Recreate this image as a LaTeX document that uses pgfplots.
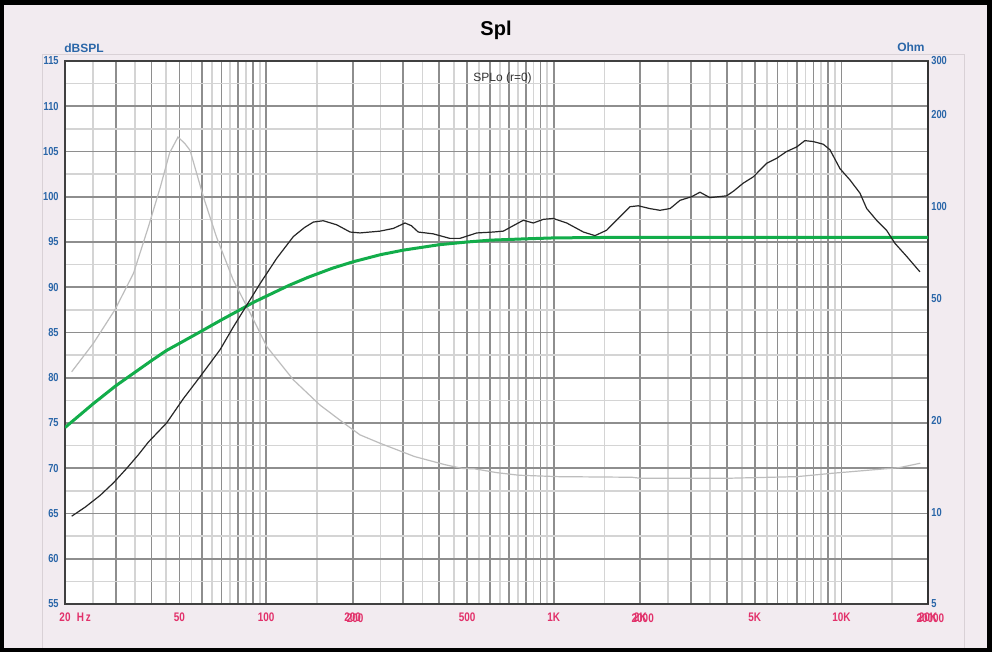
\documentclass[border=0pt]{standalone}
\usepackage{fontspec}
\setmainfont{Liberation Sans}
\newfontfamily\tickfont[FakeStretch=0.8]{Liberation Sans}
\usepackage{pgfplots}
\usepackage{pgfplotstable}
\pgfplotsset{compat=1.18}
\definecolor{bgpink}{HTML}{F2EBF0}
\definecolor{tickblue}{HTML}{2A66A8}
\definecolor{tickred}{HTML}{E2306A}
\definecolor{gridDark}{HTML}{8E8E8E}
\definecolor{gridLight}{HTML}{D4D4D4}
\definecolor{splgreen}{HTML}{12AD4A}
\definecolor{impgray}{HTML}{BDBDBD}
\definecolor{framegray}{HTML}{D9D1D6}

% SPL response (Hz, dB)
\pgfplotstableread{
f db
21.1 64.7
23.5 65.7
26.5 67.0
29.5 68.4
32.8 70.0
36.0 71.5
39.0 72.9
45.1 75.0
51.6 77.7
58.9 80.1
69.2 83.1
76.9 85.6
85.6 88.0
95.3 90.4
108.9 93.2
124.4 95.6
136 96.6
146 97.2
158 97.35
176 96.9
196 96.1
212 96.0
249 96.2
277 96.5
304 97.1
320 96.8
338 96.1
381 95.9
435 95.4
472 95.4
540 96.0
617 96.1
668 96.2
723 96.8
784 97.4
849 97.1
920 97.5
996 97.6
1109 97.1
1268 96.1
1391 95.7
1527 96.3
1700 97.8
1842 98.9
1968 99.0
2150 98.7
2340 98.5
2540 98.7
2746 99.6
3014 100.0
3223 100.5
3491 99.9
3990 100.1
4209 100.6
4557 101.5
4940 102.2
5500 103.7
5956 104.25
6451 105.0
6990 105.5
7464 106.2
7980 106.1
8646 105.8
9120 105.2
9886 103.1
10710 101.85
11600 100.4
12240 98.7
13250 97.4
14350 96.3
15350 94.85
16870 93.4
18750 91.7
}\splData

% Model response (Hz, dB)
\pgfplotstableread{
f db
20 74.5
25 77.1
30 79.1
35 80.6
40 81.9
45 83.0
50 83.8
60 85.2
70 86.4
80 87.4
90 88.3
100 89.0
120 90.2
140 91.1
170 92.1
200 92.8
250 93.6
300 94.1
400 94.7
500 95.0
600 95.2
800 95.35
1000 95.45
1500 95.5
2000 95.5
20000 95.5
}\modelData

% Impedance (Hz, Ohm)
\pgfplotstableread{
f ohm
21.1 28.8
25.1 35.7
29.8 45.9
34.6 60.5
39.0 86.0
42.9 116
46.2 150
49.4 169
52.2 161
54.4 153
60.5 108
67.2 79.7
76.9 57.5
88.1 44.8
100.6 34.8
124.4 27.1
154 22.4
190 19.3
212 17.9
249 16.8
328 15.2
418 14.3
480 13.9
532 13.85
634 13.46
757 13.2
1038 13.06
1870 13.0
2000 12.9
3990 12.9
7000 13.06
9320 13.4
14100 13.85
15900 13.98
18800 14.45
}\impData

\newcommand{\redfont}{\tickfont\bfseries\fontsize{6.2}{7}\selectfont}
\newcommand{\bluefont}{\tickfont\bfseries\fontsize{5.8}{7}\selectfont}

\begin{document}
\begin{tikzpicture}
\fill[black] (0,0) rectangle (496pt,326pt);
\fill[bgpink] (2pt,2pt) rectangle (493.5pt,323.5pt);
\draw[framegray, line width=0.5pt] (21pt,2pt) -- (21pt,298.5pt) -- (482pt,298.5pt) -- (482pt,2pt);

\node[anchor=base, font=\bfseries\fontsize{10}{12}\selectfont] at (248pt,308pt) {Spl};
\node[anchor=base west, inner sep=0pt, text=tickblue, font=\bfseries\fontsize{6}{7}\selectfont] at (32pt,299.5pt) {dBSPL};
\node[anchor=base east, inner sep=0pt, text=tickblue, font=\bfseries\fontsize{6}{7}\selectfont] at (462.5pt,300pt) {Ohm};

% grid and left axis
\begin{axis}[scale only axis, width=431.5pt, height=271.5pt,
  at={(32.5pt,24pt)}, anchor=south west,
  xmode=log, xmin=20, xmax=20000, ymin=55, ymax=115,
  axis background/.style={fill=white},
  xtick={20,30,40,50,60,70,80,90,100,200,300,400,500,600,700,800,900,1000,2000,3000,4000,5000,6000,7000,8000,9000,10000,20000},
  xticklabels={{20\rlap{\hspace{3.2pt}H\hspace{0.9pt}z}},,,50,,,,,100,200,,,500,,,,,1K,2K,,,5K,,,,,10K,20K},
  minor xtick={25,35,45,55,65,75,85,95,150,250,350,450,550,650,750,850,950,1500,2500,3500,4500,5500,6500,7500,8500,9500,15000},
  ytick={55,60,...,115},
  minor ytick={57.5,62.5,...,112.5},
  grid=both,
  major grid style={draw=gridDark, line width=0.85pt},
  minor grid style={draw=gridLight, line width=0.85pt},
  major tick length=0pt, minor tick length=0pt,
  /pgf/number format/assume math mode=true,
  xticklabel style={font=\redfont, text=tickred, anchor=north, inner sep=0pt, yshift=-4.3pt},
  yticklabel style={font=\bluefont, text=tickblue, anchor=east, inner sep=0pt, xshift=-3pt},
  axis line style={draw=black!75, line width=1pt},
  extra x ticks={200,2000,20000},
  extra x tick labels={200,2000,20000},
  extra x tick style={grid=none, major tick length=0pt,
    tick label style={font=\fontsize{4}{5}\selectfont, text=black!60, xshift=1.2pt, yshift=-0.6pt}},
]
\addplot[draw=none] coordinates {(100,80)};
\end{axis}

% impedance axis (right)
\begin{axis}[scale only axis, width=431.5pt, height=271.5pt,
  at={(32.5pt,24pt)}, anchor=south west,
  xmode=log, xmin=20, xmax=20000,
  ymode=log, ymin=5, ymax=300,
  axis x line=none, axis y line*=right,
  ytick={5,10,20,50,100,200,300},
  yticklabels={5,10,20,50,100,200,300},
  major tick length=0pt, minor tick length=0pt,
  yticklabel style={font=\bluefont, text=tickblue, anchor=west, inner sep=0pt, xshift=1.5pt},
  axis line style={draw=black!80, line width=1.4pt},
]
\addplot[impgray, line width=0.6pt] table[x=f, y=ohm] {\impData};
\end{axis}

% SPL curves
\begin{axis}[scale only axis, width=431.5pt, height=271.5pt,
  at={(32.5pt,24pt)}, anchor=south west,
  xmode=log, xmin=20, xmax=20000, ymin=55, ymax=115, hide axis]
\addplot[splgreen, line width=1.5pt] table[x=f, y=db] {\modelData};
\addplot[black!85, line width=0.6pt] table[x=f, y=db] {\splData};
\node[anchor=base, text=black!80, font=\fontsize{6}{7}\selectfont] at (rel axis cs:0.507,0.962) {SPLo (r=0)};
\end{axis}
\end{tikzpicture}
\end{document}
